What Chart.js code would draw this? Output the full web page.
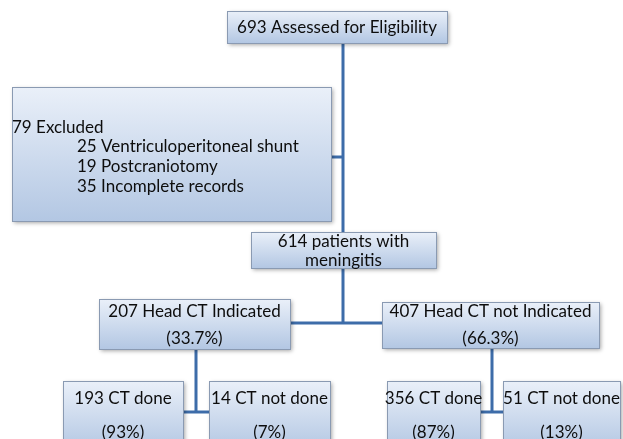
<!DOCTYPE html>
<html>
<head>
<meta charset="utf-8">
<script src="https://cdn.jsdelivr.net/npm/chart.js@4"></script>
<style>
  html, body { margin: 0; padding: 0; background: #fff; }
  canvas { display: block; }
</style>
</head>
<body>
<canvas id="flow" width="623" height="439"></canvas>
<script>
// flow counts
const assessed = 693;
const excludedCounts = [25, 19, 35];
const excludedReasons = ['Ventriculoperitoneal shunt', 'Postcraniotomy', 'Incomplete records'];
const included = 614;
const ctGroups = ['Head CT Indicated', 'Head CT not Indicated'];
const ctCounts = [207, 407];
const ctPct = ['33.7%', '66.3%'];
const doneLabels = ['CT done', 'CT not done', 'CT done', 'CT not done'];
const doneCounts = [193, 14, 356, 51];
const donePct = ['93%', '7%', '87%', '13%'];

const excludedTotal = excludedCounts.reduce((a, b) => a + b, 0);

// box layout (chart units = px of the 623x439 frame)
const boxes = [
  { x0: 227, y0: 11, x1: 447, y1: 43, lines: [assessed + ' Assessed for Eligibility'], ly: [28] },
  { x0: 12, y0: 87, x1: 331, y1: 221, align: 'left',
    lines: [excludedTotal + ' Excluded'].concat(excludedReasons.map((r, i) => excludedCounts[i] + ' ' + r)),
    lx: [12, 77, 77, 77], ly: [128, 147, 167, 187] },
  { x0: 251, y0: 232, x1: 436, y1: 268, lines: [included + ' patients with', 'meningitis'], ly: [242, 261] },
  { x0: 99, y0: 299, x1: 290, y1: 349, lines: [ctCounts[0] + ' ' + ctGroups[0], '(' + ctPct[0] + ')'], ly: [312, 339] },
  { x0: 382, y0: 302, x1: 599, y1: 348, lines: [ctCounts[1] + ' ' + ctGroups[1], '(' + ctPct[1] + ')'], ly: [312, 339] }
];
const bottomX = [[63, 183], [209, 330], [387, 480], [503, 620]];
bottomX.forEach((bx, i) => {
  boxes.push({ x0: bx[0], y0: 381, x1: bx[1], y1: 450,
    lines: [doneCounts[i] + ' ' + doneLabels[i], '(' + donePct[i] + ')'], ly: [399, 433] });
});

const connectors = [
  [{ x: 343, y: 43 }, { x: 343, y: 323 }],
  [{ x: 331, y: 157 }, { x: 343, y: 157 }],
  [{ x: 290, y: 323 }, { x: 382, y: 323 }],
  [{ x: 196, y: 349 }, { x: 196, y: 412 }],
  [{ x: 183, y: 412 }, { x: 209, y: 412 }],
  [{ x: 492, y: 348 }, { x: 492, y: 412 }],
  [{ x: 480, y: 412 }, { x: 503, y: 412 }]
];

const boxPlugin = {
  id: 'boxes',
  afterDatasetsDraw(chart) {
    const { ctx, scales: { x, y } } = chart;
    boxes.forEach(b => {
      const px0 = x.getPixelForValue(b.x0), px1 = x.getPixelForValue(b.x1);
      const py0 = y.getPixelForValue(b.y0), py1 = y.getPixelForValue(b.y1);
      ctx.save();
      const g = ctx.createLinearGradient(0, py0, 0, py1);
      g.addColorStop(0, '#eaf0f9');
      g.addColorStop(1, '#b3c7e3');
      ctx.shadowColor = 'rgba(0,0,0,0.35)';
      ctx.shadowBlur = 4;
      ctx.shadowOffsetX = 2;
      ctx.shadowOffsetY = 2;
      ctx.fillStyle = g;
      ctx.fillRect(px0, py0, px1 - px0, py1 - py0);
      ctx.restore();
      ctx.save();
      ctx.strokeStyle = '#8a9ab2';
      ctx.lineWidth = 1;
      ctx.strokeRect(Math.round(px0) + 0.5, Math.round(py0) + 0.5, px1 - px0, py1 - py0);
      ctx.fillStyle = '#0d0d0d';
      ctx.font = '17px Lato, "Open Sans", sans-serif';
      ctx.textBaseline = 'middle';
      b.lines.forEach((t, i) => {
        const ty = y.getPixelForValue(b.ly[i]);
        if (b.align === 'left') {
          ctx.textAlign = 'left';
          ctx.fillText(t, x.getPixelForValue(b.lx[i]), ty);
        } else {
          ctx.textAlign = 'center';
          ctx.fillText(t, (px0 + px1) / 2, ty);
        }
      });
      ctx.restore();
    });
  }
};

new Chart(document.getElementById('flow'), {
  type: 'scatter',
  data: {
    datasets: connectors.map(c => ({
      data: c,
      showLine: true,
      borderColor: '#3d6ca9',
      borderWidth: 3,
      pointRadius: 0
    }))
  },
  options: {
    responsive: false,
    animation: false,
    layout: { padding: 0 },
    plugins: { legend: { display: false }, tooltip: { enabled: false } },
    scales: {
      x: { type: 'linear', min: 0, max: 623, display: false },
      y: { type: 'linear', min: 0, max: 439, reverse: true, display: false }
    }
  },
  plugins: [boxPlugin]
});
</script>
</body>
</html>
